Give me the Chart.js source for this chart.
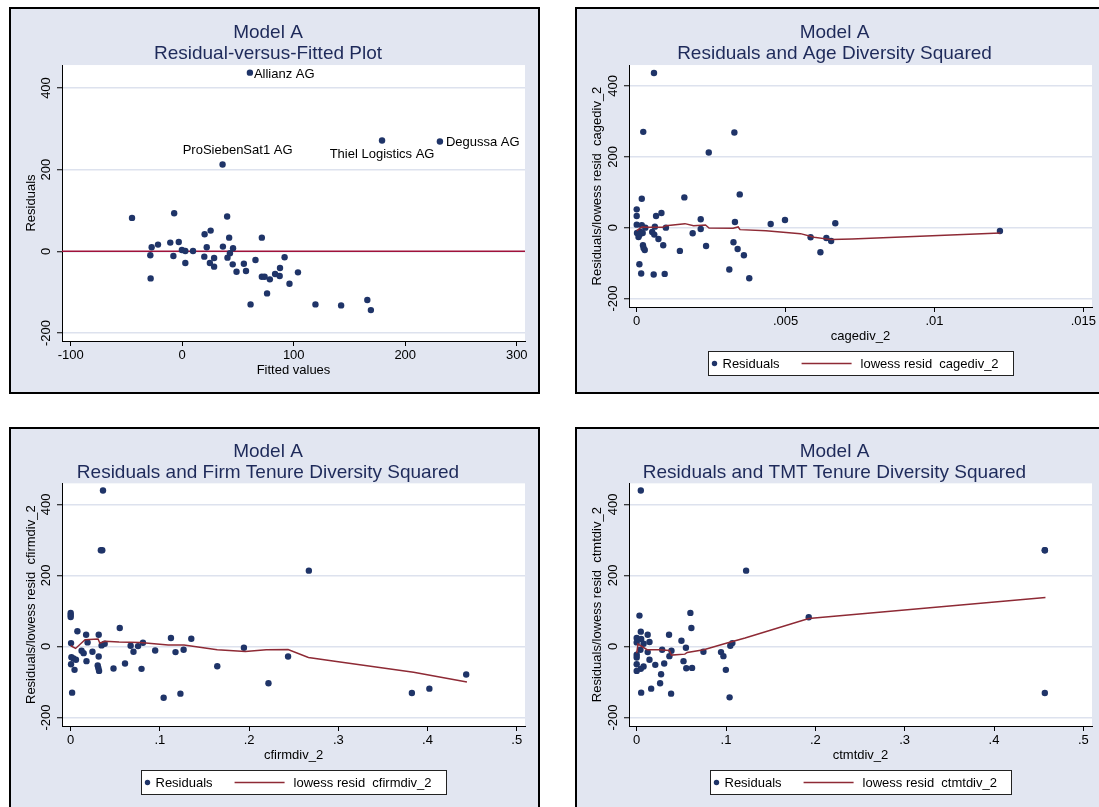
<!DOCTYPE html>
<html>
<head>
<meta charset="utf-8">
<script src="https://cdn.jsdelivr.net/npm/chart.js@4/dist/chart.umd.min.js"></script>
<style>
html, body { margin:0; padding:0; background:#ffffff; width:1099px; height:807px; overflow:hidden; }
.panel { position:absolute; box-sizing:border-box; border:2px solid #000; background:#e2e6f1; width:531px; height:387px; }
.panel canvas { display:block; }
</style>
</head>
<body>
<div class="panel" style="left:9px;top:7px;"><canvas id="c1" width="527" height="383"></canvas></div>
<div class="panel" style="left:575px;top:7px;"><canvas id="c2" width="527" height="383"></canvas></div>
<div class="panel" style="left:9px;top:427px;"><canvas id="c3" width="527" height="383"></canvas></div>
<div class="panel" style="left:575px;top:427px;"><canvas id="c4" width="527" height="383"></canvas></div>
<script>
// ---------------- DATA ----------------
// Panel 1: residual vs fitted
const fittedValues = [60.7, 36.2, 179.2, 231.1, -45, -7.2, 40.3, 25.5, 20.1, 42.1, 71.4, -27.4, -21.7, -10.7, -3.1, 22, 36.5, 45.6, -0.3, 2.8, 9.7, 42.8, -28.6, -7.9, 19.8, 28.6, 40.6, 65.7, 91.8, 2.8, 24.8, 28.6, 45.3, 55.3, 87.7, 48.7, 57.2, 103.8, 83.3, 87.4, 71.4, 73.9, 78.6, -28.3, 96.2, 76.1, 61.3, 119.5, 142.5, 166, 169.2];
const residualsFitted = [437.6, 212.7, 271.6, 269.1, 81.8, 93.3, 85.1, 50.7, 41.7, 33.5, 33.5, 9.8, 16.4, 21.3, 22.9, 9.8, 11.5, 7.4, 3.3, 0.8, 0.8, -4.9, -9.8, -11.5, -13.1, -16.4, -15.5, -21.3, -14.7, -28.6, -28.6, -37.6, -31.9, -30.3, -40.9, -49.9, -48.3, -51.5, -55.6, -60.5, -62.2, -62.2, -68.7, -66.3, -79.3, -103.1, -130, -130, -132.5, -119.4, -144];
const outlierNames = ['Allianz AG', 'ProSiebenSat1 AG', 'Thiel Logistics AG', 'Degussa AG']; // first four points
const referenceLineY = 0;

// Panel 2: age diversity squared
const cagediv2 = [0.00058, 0.00022, 0.00328, 0.00242, 0.00346, 0.0016, 0.00017, 0, 0, 0.00083, 0.00065, 0.00215, 0.00498, 0.0033, 0.0045, 0.00667, 0, 0.00017, 0.00029, 0.00061, 0.00098, 0.00215, 0.00001, 0.00013, 0.0002, 0.00006, 0.00009, 0.00052, 0.00059, 0.00073, 0.00188, 0.00089, 0.00021, 0.00023, 0.00027, 0.00233, 0.00325, 0.00339, 0.0036, 0.00145, 0.00584, 0.00637, 0.00653, 0.00617, 0.0122, 0.00009, 0.00015, 0.00057, 0.00094, 0.00311, 0.00378];
const residCage = [436.6, 270.4, 268.5, 212.2, 93.9, 85.4, 81.7, 51.6, 32.9, 41.3, 32.9, 23.5, 21.6, 16, 10.3, 12.2, 8.5, 6.6, 0, 2.8, 0, -3.8, -15, -12.2, -15, -26.3, -20.7, -12.2, -19.7, -31.9, -16, -49.8, -49.8, -57.3, -62.9, -51.6, -41.3, -60.1, -77.9, -65.7, -27.2, -29.1, -37.6, -69.5, -9.4, -103.3, -129.6, -132.4, -130.5, -118.3, -142.7];
const lowessCageX = [0, 0.00017, 0.0004, 0.00087, 0.00098, 0.00162, 0.00191, 0.00231, 0.00243, 0.00324, 0.00341, 0.00347, 0.00434, 0.0055, 0.00596, 0.00654, 0.00723, 0.01221];
const lowessCageY = [-8.5, 1.9, 1, 0.9, 5.6, 11.3, 5.6, 7.5, -0.9, -1.9, 1.9, -5.6, -8.5, -16.9, -27.2, -33.8, -31.9, -15];

// Panel 3: firm tenure diversity squared
const cfirmdiv2 = [0.0362, 0.0338, 0.0354, 0.267, 0, 0, 0, 0.055, 0.0075, 0.0173, 0.0314, 0.1124, 0.1352, 0.0004, 0.0189, 0.081, 0.0381, 0.0346, 0.0672, 0.0755, 0.0947, 0.1266, 0.1175, 0.0704, 0.1942, 0.0122, 0.0145, 0.0244, 0.0008, 0.0031, 0.0059, 0.0314, 0.0177, 0.2437, 0.0004, 0.0303, 0.0311, 0.0318, 0.0043, 0.048, 0.0609, 0.0794, 0.1643, 0.4434, 0.2217, 0.0016, 0.123, 0.1042, 0.3825, 0.4021];
const residFirm = [438.7, 270.8, 270.8, 213.2, 94.3, 88.7, 83, 51.9, 42.5, 33, 33, 23.6, 21.7, 9.4, 11.3, 10.4, 7.5, 2.8, 1.9, 0.9, -11.3, -9.4, -16, -15.1, -3.8, -12.3, -18.9, -15.1, -30.2, -34, -37.7, -28.3, -41.5, -28.3, -50, -53.8, -61.3, -68.9, -66, -62.3, -48.1, -63.2, -55.7, -79.2, -103.8, -130.2, -133, -144.3, -131.1, -118.9];
const lowessFirmX = [0, 0.0055, 0.0161, 0.0307, 0.0326, 0.0385, 0.0542, 0.0778, 0.1093, 0.127, 0.1643, 0.1958, 0.2193, 0.2437, 0.2665, 0.298, 0.3844, 0.4442];
const lowessFirmY = [1.9, -5.7, 18.9, 20.8, 9.4, 14.2, 12.3, 11.3, 3.8, 3.8, -9.4, -14.2, -9.4, -8.5, -31.1, -42.5, -72.6, -100];

// Panel 4: TMT tenure diversity squared
const ctmtdiv2 = [0.0046, 0.4569, 0.4569, 0.1225, 0.0031, 0.0601, 0.1926, 0.0612, 0.0046, 0.0123, 0.0362, 0, 0.005, 0.0501, 0.0143, 0, 0.1071, 0.0077, 0.1048, 0.0551, 0.0285, 0.0042, 0.0123, 0.0389, 0.0747, 0.0944, 0, 0, 0.0971, 0.0366, 0.0143, 0.0308, 0, 0.0524, 0.0208, 0.0077, 0.0046, 0.0555, 0.062, 0, 0.0998, 0.0273, 0.0262, 0.0162, 0.005, 0.0385, 0.104, 0.4569];
const residTmt = [438.7, 270.8, 270.8, 213.2, 86.8, 94.3, 82.1, 51.9, 41.5, 33, 33, 23.6, 20.8, 16, 12.3, 11.3, 9.4, 7.5, 1.9, -3.8, -9.4, -9.4, -16, -12.3, -15.1, -16, -23.6, -31.1, -27.4, -27.4, -37.7, -48.1, -50, -41.5, -51.9, -56.6, -63.2, -61.3, -60.4, -68.9, -66, -78.3, -103.8, -118.9, -130.2, -133, -143.4, -131.1];
const lowessTmtX = [0, 0.0015, 0.0116, 0.025, 0.0366, 0.0389, 0.0539, 0.0566, 0.0751, 0.0982, 0.1213, 0.1926, 0.4576];
const lowessTmtY = [-18.9, 6.6, -9.4, -9.4, -11.3, -24.5, -21.7, -17, -9.4, 7.5, 23.6, 78.3, 137.7];

// Tick values and labels
const yTickValues = [-200, 0, 200, 400];
const yTickLabels = ['-200', '0', '200', '400'];
const xTicksFitted = [-100, 0, 100, 200, 300];
const xLabelsFitted = ['-100', '0', '100', '200', '300'];
const xTicksCage = [0, 0.005, 0.01, 0.015];
const xLabelsCage = ['0', '.005', '.01', '.015'];
const xTicksTenure = [0, 0.1, 0.2, 0.3, 0.4, 0.5];
const xLabelsTenure = ['0', '.1', '.2', '.3', '.4', '.5'];

// ---------------- STYLE ----------------
const FONT = '"Liberation Sans", Arial, sans-serif';
const NAVY = '#1f3468';
const LOWESS = '#8e2a35';
const REDLINE = '#a0123a';
const GRID = '#dde2ee';
const TITLE_COLOR = '#1e2a5a';
Chart.defaults.font.family = FONT;
Chart.defaults.color = '#000';

const labelStyle = {
  'Allianz AG': { dx: 4, dy: 2, align: 'left' },
  'ProSiebenSat1 AG': { dx: 15, dy: -14, align: 'center' },
  'Thiel Logistics AG': { dx: 0, dy: 14, align: 'center' },
  'Degussa AG': { dx: 6, dy: 1, align: 'left' }
};

function pts(xs, ys) { return xs.map((x, i) => ({ x: x, y: ys[i] })); }

const plotBg = {
  id: 'plotBg',
  beforeDraw(chart) {
    const a = chart.chartArea, ctx = chart.ctx;
    ctx.save(); ctx.fillStyle = '#ffffff';
    ctx.fillRect(a.left, a.top, a.right - a.left, a.bottom - a.top);
    ctx.restore();
  }
};

const yline = {
  id: 'yline',
  beforeDatasetsDraw(chart, args, opts) {
    if (opts.value === undefined) return;
    const a = chart.chartArea, ctx = chart.ctx;
    const y = chart.scales.y.getPixelForValue(opts.value);
    ctx.save(); ctx.strokeStyle = REDLINE; ctx.lineWidth = 1.5;
    ctx.beginPath(); ctx.moveTo(a.left, y); ctx.lineTo(a.right, y); ctx.stroke();
    ctx.restore();
  }
};

const mlabels = {
  id: 'mlabels',
  afterDatasetsDraw(chart, args, opts) {
    if (!opts.names) return;
    const meta = chart.getDatasetMeta(0), ctx = chart.ctx;
    ctx.save(); ctx.font = '13px ' + FONT; ctx.fillStyle = '#000'; ctx.textBaseline = 'middle';
    opts.names.forEach((name, i) => {
      const el = meta.data[i]; const st = labelStyle[name];
      ctx.textAlign = st.align;
      ctx.fillText(name, el.x + st.dx, el.y + st.dy);
    });
    ctx.restore();
  }
};

const stataLegend = {
  id: 'stataLegend',
  afterDraw(chart, args, opts) {
    if (!opts.items) return;
    const ctx = chart.ctx, a = chart.chartArea;
    ctx.save();
    ctx.font = '13px ' + FONT;
    const w1 = ctx.measureText(opts.items[0]).width;
    const w2 = ctx.measureText(opts.items[1]).width;
    const W = Math.round(14 + w1 + 22 + 50 + 9 + w2 + 15);
    const cx = (a.left + a.right) / 2;
    const left = Math.round(cx - W / 2) + 0.5, top = Math.round(a.bottom + 43.5) + 0.5, H = 24;
    ctx.fillStyle = '#ffffff'; ctx.fillRect(left, top, W, H);
    ctx.strokeStyle = '#222'; ctx.lineWidth = 1; ctx.strokeRect(left, top, W, H);
    const cy = top + H / 2;
    ctx.fillStyle = NAVY; ctx.beginPath(); ctx.arc(left + 6, cy, 2.7, 0, Math.PI * 2); ctx.fill();
    ctx.fillStyle = '#000'; ctx.textBaseline = 'middle'; ctx.textAlign = 'left';
    ctx.fillText(opts.items[0], left + 14, cy + 0.5);
    const x = left + 14 + w1 + 22;
    ctx.strokeStyle = LOWESS; ctx.lineWidth = 1.5;
    ctx.beginPath(); ctx.moveTo(x, cy); ctx.lineTo(x + 50, cy); ctx.stroke();
    ctx.fillText(opts.items[1], x + 59, cy + 0.5);
    ctx.restore();
  }
};

function makeChart(id, p) {
  const datasets = [{
    type: 'scatter', label: 'Residuals', data: pts(p.xs, p.ys), order: 1,
    pointRadius: 3.2, pointHoverRadius: 3.2, backgroundColor: NAVY, borderWidth: 0, pointBorderWidth: 0
  }];
  if (p.lx) {
    datasets.push({
      type: 'line', label: p.legend[1], data: pts(p.lx, p.ly), order: 0,
      showLine: true, pointRadius: 0, borderColor: LOWESS, borderWidth: 1.5, fill: false, tension: 0
    });
  }
  return new Chart(document.getElementById(id), {
    type: 'scatter',
    data: { datasets: datasets },
    plugins: [plotBg, yline, mlabels, stataLegend],
    options: {
      responsive: false, animation: false, events: [],
      layout: { padding: { left: 0, right: p.padRight, top: 0, bottom: p.padBottom } },
      plugins: {
        legend: { display: false }, tooltip: { enabled: false },
        title: {
          display: true, text: p.title, color: TITLE_COLOR,
          font: { family: FONT, size: 19, weight: 'normal', lineHeight: 1.08 },
          padding: { top: p.titleTop, bottom: p.titleBottom }
        },
        yline: { value: p.yline },
        mlabels: { names: p.names },
        stataLegend: { items: p.legend }
      },
      scales: {
        x: {
          type: 'linear', min: p.xmin, max: p.xmax,
          afterBuildTicks: s => { s.ticks = p.xTicks.map(v => ({ value: v })); },
          afterFit: s => { s.height = 38; s.paddingLeft = 0; s.paddingRight = 0; },
          ticks: { callback: (v, i) => p.xLabels[i], font: { family: FONT, size: 13 }, color: '#000', padding: 2, minRotation: 0, maxRotation: 0, autoSkip: false },
          grid: { drawOnChartArea: false, drawTicks: true, tickLength: 5, tickColor: '#000', tickWidth: 1 },
          border: { display: true, color: '#000', width: 1 },
          title: { display: true, text: p.xTitle, color: '#000', font: { family: FONT, size: 13 }, padding: { top: 0, bottom: 1.2 } }
        },
        y: {
          type: 'linear', min: p.ymin, max: p.ymax,
          afterBuildTicks: s => { s.ticks = yTickValues.map(v => ({ value: v })); },
          afterFit: s => { s.width = p.yWidth; s.paddingTop = 0; s.paddingBottom = 0; },
          ticks: { callback: (v, i) => yTickLabels[i], font: { family: FONT, size: 13 }, color: '#000', padding: -2, minRotation: 90, maxRotation: 90, crossAlign: 'center', autoSkip: false },
          grid: { color: GRID, lineWidth: 1.5, drawTicks: true, tickLength: 5, tickColor: '#000', tickWidth: 1 },
          border: { display: true, color: '#000', width: 1 },
          title: { display: true, text: p.yTitle, color: '#000', font: { family: FONT, size: 13 }, padding: { top: 13, bottom: 0 } }
        }
      }
    }
  });
}

makeChart('c1', {
  xs: fittedValues, ys: residualsFitted, names: outlierNames, yline: referenceLineY,
  title: ['Model A', 'Residual-versus-Fitted Plot'], xTitle: 'Fitted values', yTitle: 'Residuals',
  xTicks: xTicksFitted, xLabels: xLabelsFitted,
  xmin: -107.8, xmax: 307.4, ymin: -219.7, ymax: 456.3,
  yWidth: 51, padRight: 13, padBottom: 13, titleTop: 13.6, titleBottom: 1.4
});
makeChart('c2', {
  xs: cagediv2, ys: residCage, lx: lowessCageX, ly: lowessCageY,
  legend: ['Residuals', 'lowess resid  cagediv_2'],
  title: ['Model A', 'Residuals and Age Diversity Squared'], xTitle: 'cagediv_2', yTitle: 'Residuals/lowess resid  cagediv_2',
  xTicks: xTicksCage, xLabels: xLabelsCage,
  xmin: -0.000259, xmax: 0.015292, ymin: -224, ymax: 459,
  yWidth: 52, padRight: 12, padBottom: 47, titleTop: 13.6, titleBottom: 1.4
});
makeChart('c3', {
  xs: cfirmdiv2, ys: residFirm, lx: lowessFirmX, ly: lowessFirmY,
  legend: ['Residuals', 'lowess resid  cfirmdiv_2'],
  title: ['Model A', 'Residuals and Firm Tenure Diversity Squared'], xTitle: 'cfirmdiv_2', yTitle: 'Residuals/lowess resid  cfirmdiv_2',
  xTicks: xTicksTenure, xLabels: xLabelsTenure,
  xmin: -0.00975, xmax: 0.5093, ymin: -224, ymax: 459,
  yWidth: 51, padRight: 13, padBottom: 48, titleTop: 13, titleBottom: 0.3
});
makeChart('c4', {
  xs: ctmtdiv2, ys: residTmt, lx: lowessTmtX, ly: lowessTmtY,
  legend: ['Residuals', 'lowess resid  ctmtdiv_2'],
  title: ['Model A', 'Residuals and TMT Tenure Diversity Squared'], xTitle: 'ctmtdiv_2', yTitle: 'Residuals/lowess resid  ctmtdiv_2',
  xTicks: xTicksTenure, xLabels: xLabelsTenure,
  xmin: -0.00862, xmax: 0.5097, ymin: -224, ymax: 459,
  yWidth: 52, padRight: 12, padBottom: 48, titleTop: 13, titleBottom: 0.3
});
</script>
</body>
</html>
